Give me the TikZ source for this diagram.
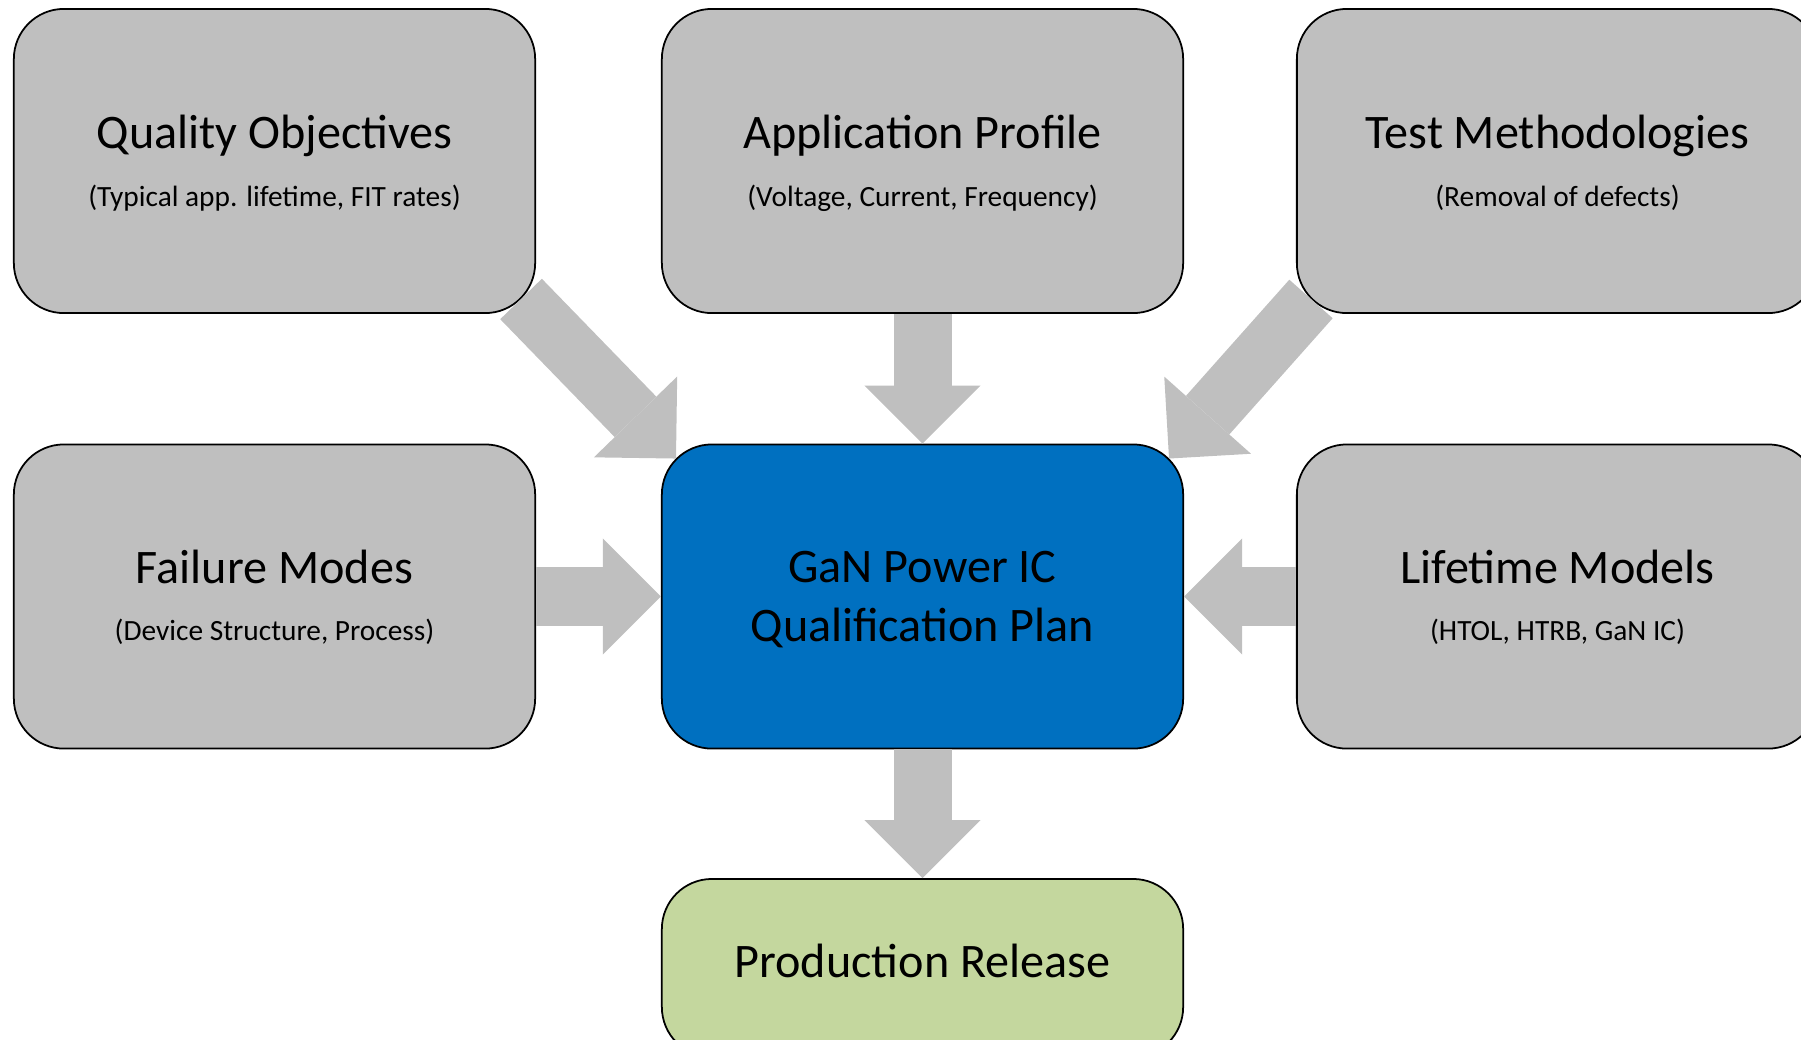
\documentclass[tikz,border=0pt]{standalone}
\usepackage{fontspec}
\setmainfont{Carlito}
\usetikzlibrary{arrows.meta,calc}
\definecolor{boxgrey}{RGB}{191,191,191}
\definecolor{planblue}{RGB}{0,112,192}
\definecolor{relgreen}{RGB}{196,215,158}
\newcommand{\bigtxt}{\fontsize{13.7}{17}\selectfont}
\newcommand{\smalltxt}{\fontsize{8.35}{10}\selectfont}
\tikzset{
  box/.style={draw=black, line width=0.5pt, rounded corners=0.5cm, minimum width=5.21cm, minimum height=3.04cm, inner sep=0pt},
  fatarrow/.style={draw=boxgrey, line width=0.58cm, -{Triangle[length=0.58cm,width=1.16cm,line width=0pt]}},
  big/.style={font=\bigtxt, align=center, inner sep=0pt},
  sub/.style={font=\smalltxt, inner sep=0pt},
}
\begin{document}
\begin{tikzpicture}[x=0.01cm,y=-0.01cm]
        \useasboundingbox (0,0) rectangle (1801,1039);
        % boxes
        \node[box, fill=boxgrey] (quality) at (274.5,161) {};
        \node[box, fill=boxgrey] (profile) at (922.5,161) {};
        \node[box, fill=boxgrey] (tests) at (1557.5,161) {};
        \node[box, fill=boxgrey] (failure) at (274.5,596.5) {};
        \node[box, fill=planblue] (plan) at (922.5,596.5) {};
        \node[box, fill=boxgrey] (lifetime) at (1557.5,596.5) {};
        \node[box, fill=relgreen, minimum height=1.78cm] (release) at (922.5,968) {};
        % arrows
        \draw[fatarrow] ($(quality.south east)+(-15,-15)$) -- ($(plan.north west)+(15,15)$);
        \draw[fatarrow] (profile.south) -- (plan.north);
        \draw[fatarrow] ($(tests.south west)+(15,-15)$) -- ($(plan.north east)+(-15,15)$);
        \draw[fatarrow] (failure.east) -- (plan.west);
        \draw[fatarrow] (lifetime.west) -- (plan.east);
        \draw[fatarrow] (plan.south) -- (release.north);
        % texts
        \node[big] (qt) at (274.5,135.5) {Quality Objectives};
        \node[sub] (qs) at (274.5,198) {(Typical app. lifetime, FIT rates)};
        \node[big] (pt) at (922.5,135.5) {Application Profile};
        \node[sub] (ps) at (922.5,198) {(Voltage, Current, Frequency)};
        \node[big] (tt) at (1557.5,135.5) {Test Methodologies};
        \node[sub] (ts) at (1557.5,198) {(Removal of defects)};
        \node[big] (ft) at (274.5,567) {Failure Modes};
        \node[sub] (fs) at (274.5,632) {(Device Structure, Process)};
        \node[big] (lt) at (1557.5,567) {Lifetime Models};
        \node[sub] (ls) at (1557.5,632) {(HTOL, HTRB, GaN IC)};
        \node[big] (gt) at (922.5,599.5) {GaN Power IC\\Qualification Plan};
        \node[big] (rt) at (922.5,961) {Production Release};
\end{tikzpicture}
\end{document}
